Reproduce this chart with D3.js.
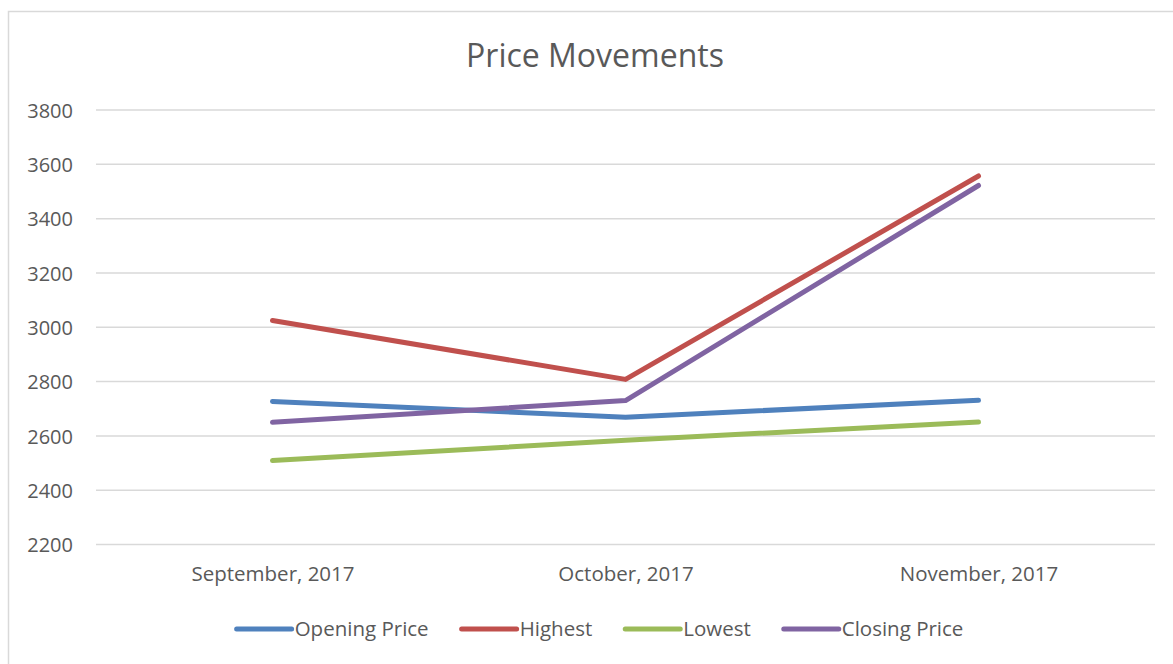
<!DOCTYPE html>
<html lang="en">
<head>
<meta charset="UTF-8" />
<title>Price Movements</title>
<style>
  body { margin: 0; background: #fff; }
  text { font-family: "Open Sans", "Noto Sans", sans-serif; fill: #595959; }
</style>
</head>
<body>
<script src="https://cdn.jsdelivr.net/npm/d3@7"></script>
<div id="app"></div>
<script>
// data
const months = ["September, 2017", "October, 2017", "November, 2017"];
const seriesNames = ["Opening Price", "Highest", "Lowest", "Closing Price"];
const seriesColors = ["#4F81BD", "#C0504D", "#9BBB59", "#8064A2"];
const openingPrice = [2727, 2669, 2731];
const highest = [3025, 2808, 3557];
const lowest = [2509, 2584, 2651];
const closingPrice = [2650, 2730, 3522];
const yTicks = [2200, 2400, 2600, 2800, 3000, 3200, 3400, 3600, 3800];

const allSeries = [openingPrice, highest, lowest, closingPrice];

const w = 1173, h = 664;
const svg = d3.select("#app").append("svg")
  .attr("width", w).attr("height", h);

// frame
svg.append("rect")
  .attr("x", 8.5).attr("y", 11.5)
  .attr("width", 1200).attr("height", 700)
  .attr("fill", "none").attr("stroke", "#D9D9D9").attr("stroke-width", 1.5);

// title
svg.append("text")
  .attr("x", 595).attr("y", 67)
  .attr("text-anchor", "middle")
  .style("font-size", "32px")
  .text("Price Movements");

// scales
const x = d3.scalePoint().domain(months).range([96, 1155]).padding(0.5);
const y = d3.scaleLinear().domain([2200, 3800]).range([544.5, 110]);

// gridlines
svg.append("g").selectAll("line")
  .data(yTicks).enter().append("line")
  .attr("x1", 96).attr("x2", 1155)
  .attr("y1", d => y(d)).attr("y2", d => y(d))
  .attr("stroke", "#D9D9D9").attr("stroke-width", 1.5);

// y axis
const yAxis = svg.append("g")
  .attr("transform", "translate(73,0)")
  .call(d3.axisLeft(y).tickValues(yTicks).tickSize(0).tickPadding(0).tickFormat(d3.format("d")));
yAxis.select(".domain").remove();
yAxis.selectAll("text").style("font-size", "20px").attr("dy", "0.36em");

// x axis
const xAxis = svg.append("g")
  .attr("transform", "translate(0,563)")
  .call(d3.axisBottom(x).tickSize(0).tickPadding(0));
xAxis.select(".domain").remove();
xAxis.selectAll("text").style("font-size", "20.5px").attr("dy", "0.9em");

// lines
const line = d3.line()
  .x((d, i) => x(months[i]))
  .y(d => y(d));

svg.append("g").selectAll("path")
  .data(allSeries).enter().append("path")
  .attr("d", d => line(d))
  .attr("fill", "none")
  .attr("stroke", (d, i) => seriesColors[i])
  .attr("stroke-width", 5)
  .attr("stroke-linecap", "round")
  .attr("stroke-linejoin", "round");

// legend
const legend = svg.append("g");
const items = legend.selectAll("g").data(seriesNames).enter().append("g");
items.append("line")
  .attr("x1", 0).attr("x2", 55).attr("y1", 0).attr("y2", 0)
  .attr("stroke", (d, i) => seriesColors[i])
  .attr("stroke-width", 5)
  .attr("stroke-linecap", "round");
items.append("text")
  .attr("x", 58).attr("dy", "0.35em")
  .style("font-size", "20.5px")
  .text(d => d);
let offset = 0;
const gap = 33;
items.each(function () {
  const g = d3.select(this);
  g.attr("transform", "translate(" + offset + ",0)");
  offset += 58 + g.select("text").node().getComputedTextLength() + gap;
});
offset -= gap;
legend.attr("transform", "translate(" + (600 - offset / 2) + ",629)");
</script>
</body>
</html>
